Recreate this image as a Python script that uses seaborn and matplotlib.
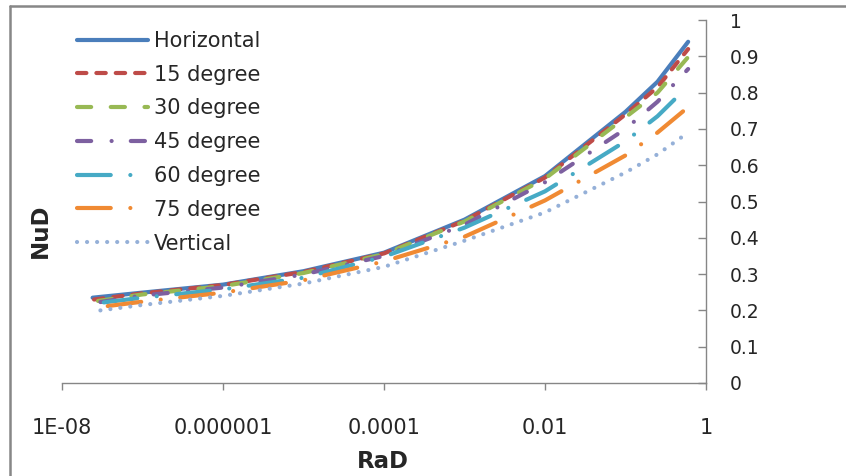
import numpy as np
import pandas as pd
import matplotlib
matplotlib.use("Agg")
import matplotlib.pyplot as plt
from matplotlib.lines import Line2D
from matplotlib.ticker import NullLocator, FixedLocator
import seaborn as sns

# ---------------- data ----------------
series_names = ["Horizontal", "15 degree", "30 degree", "45 degree",
                "60 degree", "75 degree", "Vertical"]

rad_horizontal = [2.4e-8, 1e-7, 1e-6, 1e-5, 1e-4, 1e-3, 1e-2, 1e-1, 0.25, 0.6]
rad_15 = [2.5e-8, 1e-7, 1e-6, 1e-5, 1e-4, 1e-3, 1e-2, 1e-1, 0.25, 0.6]
rad_30 = [2.8e-8, 1e-7, 1e-6, 1e-5, 1e-4, 1e-3, 1e-2, 1e-1, 0.25, 0.6]
rad_45 = [3.0e-8, 1e-7, 1e-6, 1e-5, 1e-4, 1e-3, 1e-2, 1e-1, 0.25, 0.6]
rad_60 = [3.3e-8, 1e-7, 1e-6, 1e-5, 1e-4, 1e-3, 1e-2, 1e-1, 0.25, 0.6]
rad_75 = [3.7e-8, 1e-7, 1e-6, 1e-5, 1e-4, 1e-3, 1e-2, 1e-1, 0.25, 0.6]
rad_vertical = [3.0e-8, 1e-7, 1e-6, 1e-5, 1e-4, 1e-3, 1e-2, 1e-1, 0.25, 0.6]

nud_horizontal = [0.235, 0.249, 0.271, 0.308, 0.359, 0.450, 0.570, 0.747, 0.830, 0.940]
nud_15 = [0.230, 0.247, 0.270, 0.306, 0.357, 0.447, 0.566, 0.740, 0.815, 0.920]
nud_30 = [0.226, 0.244, 0.267, 0.303, 0.355, 0.445, 0.563, 0.732, 0.800, 0.898]
nud_45 = [0.223, 0.241, 0.263, 0.299, 0.350, 0.436, 0.553, 0.700, 0.775, 0.865]
nud_60 = [0.222, 0.235, 0.258, 0.290, 0.348, 0.428, 0.528, 0.666, 0.735, 0.818]
nud_75 = [0.212, 0.224, 0.249, 0.283, 0.335, 0.403, 0.503, 0.627, 0.690, 0.760]
nud_vertical = [0.200, 0.215, 0.240, 0.274, 0.320, 0.392, 0.470, 0.580, 0.630, 0.690]

x_tick_values = [1e-8, 1e-6, 1e-4, 1e-2, 1]
x_tick_labels = ["1E-08", "0.000001", "0.0001", "0.01", "1"]
y_tick_values = [0, 0.1, 0.2, 0.3, 0.4, 0.5, 0.6, 0.7, 0.8, 0.9, 1.0]
y_tick_labels = ["0", "0.1", "0.2", "0.3", "0.4", "0.5", "0.6", "0.7", "0.8", "0.9", "1"]

# ---------------- styles ----------------
colors = ["#4A7EBB", "#BE4B48", "#98B954", "#7D60A0", "#46AAC5", "#F08A33", "#95B0D8"]
dash_patterns = [None, (2.25, 2.4), (3.4, 4.7), (3.4, 4.9, 0.01, 4.6),
                 (8.1, 4.7, 0.01, 4.7), (8.1, 4.7, 0.01, 4.7), (0.01, 2.4)]

rad_all = [rad_horizontal, rad_15, rad_30, rad_45, rad_60, rad_75, rad_vertical]
nud_all = [nud_horizontal, nud_15, nud_30, nud_45, nud_60, nud_75, nud_vertical]

frames = []
for name, xs, ys in zip(series_names, rad_all, nud_all):
    frames.append(pd.DataFrame({"RaD": xs, "NuD": ys, "series": name}))
df = pd.concat(frames, ignore_index=True)

sns.set_style("white")
plt.rcParams["font.family"] = ["DejaVu Sans"]

W, H = 846, 476
fig = plt.figure(figsize=(W / 100, H / 100), dpi=100)
ax = fig.add_axes([62 / W, 1 - 383 / H, (706 - 62) / W, (383 - 20) / H])

LW = 3.0
handles = []
for name, col, dp in zip(series_names, colors, dash_patterns):
    sub = df[df["series"] == name]
    sns.lineplot(data=sub, x="RaD", y="NuD", ax=ax, color=col, linewidth=LW,
                 sort=False, estimator=None, legend=False)
    ln = ax.lines[-1]
    ln.set_solid_capstyle("round")
    ln.set_dash_capstyle("round")
    if dp is not None:
        ln.set_dashes(dp)
    h = Line2D([], [], color=col, linewidth=LW, solid_capstyle="round",
               dash_capstyle="round")
    if dp is not None:
        h.set_dashes(dp)
    handles.append(h)

ax.set_xscale("log")
ax.set_xlim(1e-8, 1)
ax.set_ylim(0, 1)
ax.xaxis.set_major_locator(FixedLocator(x_tick_values))
ax.xaxis.set_minor_locator(NullLocator())
ax.set_xticklabels(x_tick_labels)
ax.yaxis.tick_right()
ax.set_yticks(y_tick_values)
ax.set_yticklabels(y_tick_labels)
ax.yaxis.set_minor_locator(NullLocator())

gray = "#868686"
for s in ["left", "top"]:
    ax.spines[s].set_visible(False)
for s in ["right", "bottom"]:
    ax.spines[s].set_visible(True)
    ax.spines[s].set_color(gray)
    ax.spines[s].set_linewidth(1.0)

ax.tick_params(axis="x", which="major", direction="out", length=5, width=1,
               color=gray, labelsize=15, pad=20, bottom=True)
ax.tick_params(axis="y", which="major", direction="in", length=6, width=1,
               color=gray, labelsize=13.5, pad=17, right=True, left=False)
for t in ax.get_yticklabels():
    t.set_horizontalalignment("left")

ax.set_xlabel("RaD", fontsize=16.5, fontweight="bold")
ax.xaxis.set_label_coords((383 - 62) / 644, (383 - 462) / 363)
ax.xaxis.label.set_verticalalignment("center")
ax.yaxis.set_label_position("left")
ax.set_ylabel("NuD", fontsize=16.5, fontweight="bold")
ax.yaxis.set_label_coords((40 - 62) / 644, (383 - 231) / 363)
ax.yaxis.label.set_verticalalignment("center")
ax.grid(False)

fig.legend(handles, series_names, loc="upper left",
           bbox_to_anchor=(77 / W, 1 - 31 / H), frameon=False,
           borderpad=0, borderaxespad=0, fontsize=15,
           handlelength=3.4, handletextpad=0.3, labelspacing=0.66)

# outer chart-area border (top and left visible in the picture)
fig.add_artist(Line2D([10 / W, 1], [1 - 6 / H, 1 - 6 / H], transform=fig.transFigure,
                      color="#878787", linewidth=1.8))
fig.add_artist(Line2D([10 / W, 10 / W], [0, 1 - 6 / H], transform=fig.transFigure,
                      color="#878787", linewidth=1.8))

fig.savefig("out.png", dpi=100)
